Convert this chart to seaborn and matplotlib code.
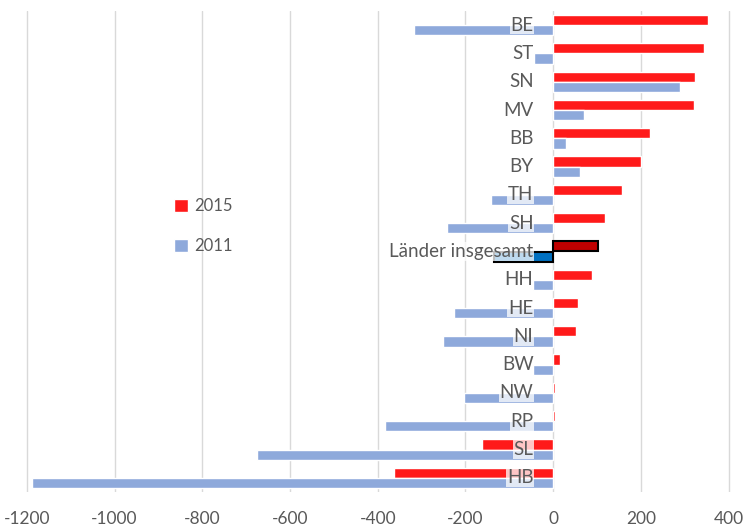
import pandas as pd
import numpy as np
import seaborn as sns
import matplotlib.pyplot as plt
from matplotlib.patches import Patch

laender = ["BE", "ST", "SN", "MV", "BB", "BY", "TH", "SH", "Länder insgesamt",
           "HH", "HE", "NI", "BW", "NW", "RP", "SL", "HB"]
werte_2015 = [353, 344, 323, 321, 220, 200, 158, 117, 103,
              89, 57, 53, 16, 4, 4, -163, -364]
werte_2011 = [-317, -44, 289, 71, 30, 60, -142, -243, -135,
              -46, -225, -252, -46, -204, -383, -675, -1188]

rot = "#FF1A1A"
blau = "#8EA9DB"
grau = "#595959"

df = pd.DataFrame({
    "Land": laender * 2,
    "Wert": werte_2015 + werte_2011,
    "Jahr": ["2015"] * len(laender) + ["2011"] * len(laender),
})

sns.set_style("white")
plt.rcParams["font.family"] = ["Lato", "DejaVu Sans"]
plt.rcParams["axes.unicode_minus"] = False

fig = plt.figure(figsize=(7.44, 5.29), dpi=100)
ax = fig.add_axes([22 / 744, 37 / 529, 722 / 744, 481 / 529])

sns.barplot(data=df, y="Land", x="Wert", hue="Jahr", hue_order=["2015", "2011"],
            order=laender, palette=[rot, blau], width=0.72, orient="h",
            saturation=1, ax=ax, legend=False)

# Länder insgesamt hervorheben
idx = laender.index("Länder insgesamt")
n = len(laender)
ax.patches[idx].set_facecolor("#C00000")
ax.patches[idx].set_edgecolor("black")
ax.patches[idx].set_linewidth(1.5)
ax.patches[n + idx].set_facecolor("#0070C0")
ax.patches[n + idx].set_edgecolor("black")
ax.patches[n + idx].set_linewidth(1.5)

# Beschriftungen an der Null-Linie
for i, name in enumerate(laender):
    ax.text(-45, i, name, ha="right", va="center", fontsize=13.5, color=grau,
            zorder=5, bbox=dict(facecolor="white", edgecolor="none", alpha=0.75, pad=0.5))

ax.set_xlim(-1211, 435)
ax.set_ylim(len(laender) - 0.5, -0.5)
ax.set_xticks(np.arange(-1200, 401, 200))
ax.set_yticks([])
ax.set_xlabel("")
ax.set_ylabel("")
ax.grid(axis="x", color="#D9D9D9", linewidth=1)
ax.set_axisbelow(True)
for s in ax.spines.values():
    s.set_visible(False)
ax.tick_params(axis="x", length=0, pad=14, labelsize=12.5, labelcolor=grau)

handles = [Patch(facecolor=rot, label="2015"), Patch(facecolor=blau, label="2011")]
ax.legend(handles=handles, loc="center left", bbox_to_anchor=(0.19, 0.553), frameon=False,
          fontsize=12, labelspacing=1.45, handlelength=0.8, handleheight=0.8,
          handletextpad=0.4, labelcolor=grau)

fig.savefig("out.png", dpi=100)
